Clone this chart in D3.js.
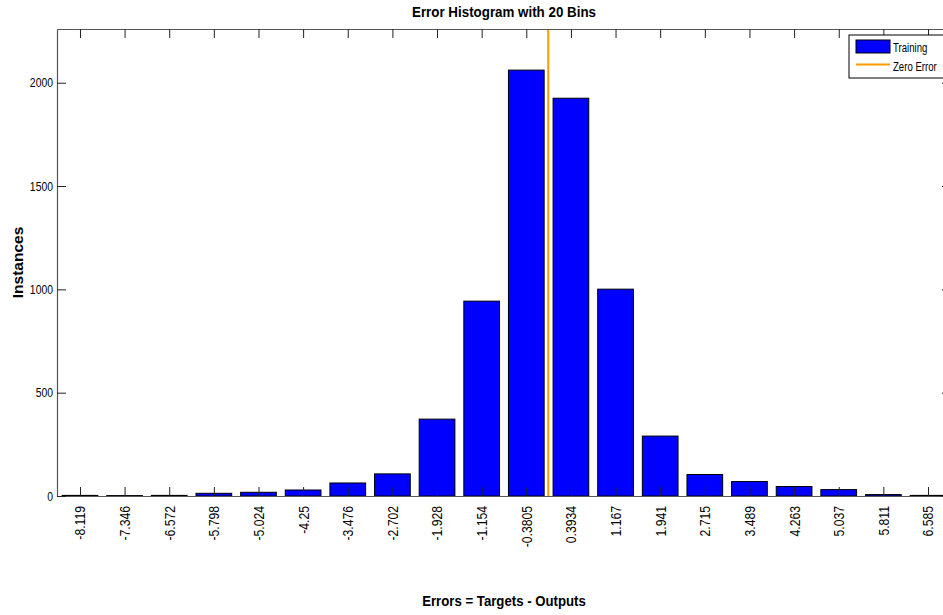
<!DOCTYPE html>
<html>
<head>
<meta charset="utf-8">
<script src="https://cdn.jsdelivr.net/npm/d3@7"></script>
<style>
body { margin: 0; background: #fff; }
svg text { font-family: "Liberation Sans", Arial, sans-serif; fill: #000; }
</style>
</head>
<body>
<svg id="chart" width="943" height="615"></svg>
<script>
// bin centres, as printed under the bars
const binLabels = ["-8.119", "-7.346", "-6.572", "-5.798", "-5.024", "-4.25", "-3.476", "-2.702", "-1.928", "-1.154",
    "-0.3805", "0.3934", "1.167", "1.941", "2.715", "3.489", "4.263", "5.037", "5.811", "6.585"];
const binCenters = binLabels.map(Number);
// training instances per bin
const counts = [3, 2, 3, 13, 18, 29, 63, 107, 372, 943, 2061, 1925, 1001, 290, 104, 70, 46, 31, 7, 3];
const yTicks = [0, 500, 1000, 1500, 2000];
const yMax = 2260;
const legendNames = ["Training", "Zero Error"];

const svg = d3.select("#chart");
const plotLeft = 57, plotRight = 951, plotTop = 29, plotBottom = 496;
const binWidth = (binCenters[binCenters.length - 1] - binCenters[0]) / (binCenters.length - 1);

// the original uses a condensed face; squeeze the text horizontally to match
function squeeze(sel, k) {
    sel.each(function () {
        const len = this.getComputedTextLength();
        d3.select(this).attr("textLength", len * k).attr("lengthAdjust", "spacingAndGlyphs");
    });
}

const x = d3.scaleLinear()
    .domain([binCenters[0] - 0.515 * binWidth, binCenters[binCenters.length - 1] + 0.515 * binWidth])
    .range([plotLeft, plotRight]);
const y = d3.scaleLinear().domain([0, yMax]).range([plotBottom, plotTop]);
const barW = x(binWidth * 0.8) - x(0);

// bars
svg.append("g")
    .selectAll("rect")
    .data(counts)
    .join("rect")
    .attr("x", (d, i) => x(binCenters[i]) - barW / 2)
    .attr("y", (d) => y(d))
    .attr("width", barW)
    .attr("height", (d) => y(0) - y(d))
    .attr("fill", "#0000ff")
    .attr("stroke", "#000")
    .attr("stroke-width", 1);

// zero error line
svg.append("line")
    .attr("x1", x(0)).attr("x2", x(0))
    .attr("y1", y(yMax)).attr("y2", y(0))
    .attr("stroke", "#ff9900")
    .attr("stroke-width", 2);

// axes, ticks pointing inward on all four sides
const styleAxis = (g) => {
    g.select(".domain").attr("stroke", "#555").attr("stroke-width", 1.2);
    g.selectAll(".tick line").attr("stroke", "#222");
};

const xBottom = svg.append("g")
    .attr("transform", `translate(0,${plotBottom})`)
    .call(d3.axisBottom(x).tickValues(binCenters).tickSize(-9).tickSizeOuter(0)
        .tickFormat((d, i) => binLabels[i]))
    .call(styleAxis);
xBottom.selectAll(".tick text")
    .attr("transform", "rotate(-90)")
    .attr("x", -10)
    .attr("y", 0)
    .attr("dy", "0.35em")
    .attr("text-anchor", "end")
    .style("font-size", "14px")
    .call(squeeze, 0.87);

svg.append("g")
    .attr("transform", `translate(0,${plotTop})`)
    .call(d3.axisTop(x).tickValues(binCenters).tickSize(-9).tickSizeOuter(0).tickFormat(""))
    .call(styleAxis);

svg.append("g")
    .attr("transform", `translate(${plotLeft},0)`)
    .call(d3.axisLeft(y).tickValues(yTicks).tickSize(-9).tickSizeOuter(0).tickPadding(4).tickFormat(d3.format("d")))
    .call(styleAxis)
    .selectAll(".tick text")
    .style("font-size", "13px")
    .call(squeeze, 0.8);

svg.append("g")
    .attr("transform", `translate(${plotRight},0)`)
    .call(d3.axisRight(y).tickValues(yTicks).tickSize(-9).tickSizeOuter(0).tickFormat(""))
    .call(styleAxis);

// titles
svg.append("text")
    .attr("x", (plotLeft + plotRight) / 2)
    .attr("y", 17)
    .attr("text-anchor", "middle")
    .style("font-size", "15px")
    .style("font-weight", "bold")
    .text("Error Histogram with 20 Bins")
    .call(squeeze, 0.89);

svg.append("text")
    .attr("x", (plotLeft + plotRight) / 2)
    .attr("y", 606)
    .attr("text-anchor", "middle")
    .style("font-size", "15px")
    .style("font-weight", "bold")
    .text("Errors = Targets - Outputs")
    .call(squeeze, 0.88);

svg.append("text")
    .attr("transform", `translate(23,${(plotTop + plotBottom) / 2}) rotate(-90)`)
    .attr("text-anchor", "middle")
    .style("font-size", "15.5px")
    .style("font-weight", "bold")
    .text("Instances");

// legend (runs past the right edge, as in the original)
const legend = svg.append("g").attr("transform", "translate(849,35)");
legend.append("rect")
    .attr("width", 120).attr("height", 43)
    .attr("fill", "#fff").attr("stroke", "#000");
legend.append("rect")
    .attr("x", 7).attr("y", 5).attr("width", 34).attr("height", 13)
    .attr("fill", "#0000ff").attr("stroke", "#000");
legend.append("line")
    .attr("x1", 7).attr("x2", 41).attr("y1", 29.5).attr("y2", 29.5)
    .attr("stroke", "#ff9900").attr("stroke-width", 2);
legend.selectAll("text.lbl")
    .data(legendNames)
    .join("text")
    .attr("class", "lbl")
    .attr("x", 44)
    .attr("y", (d, i) => 16.5 + i * 19)
    .style("font-size", "12px")
    .text((d) => d)
    .call(squeeze, 0.8);
</script>
</body>
</html>
